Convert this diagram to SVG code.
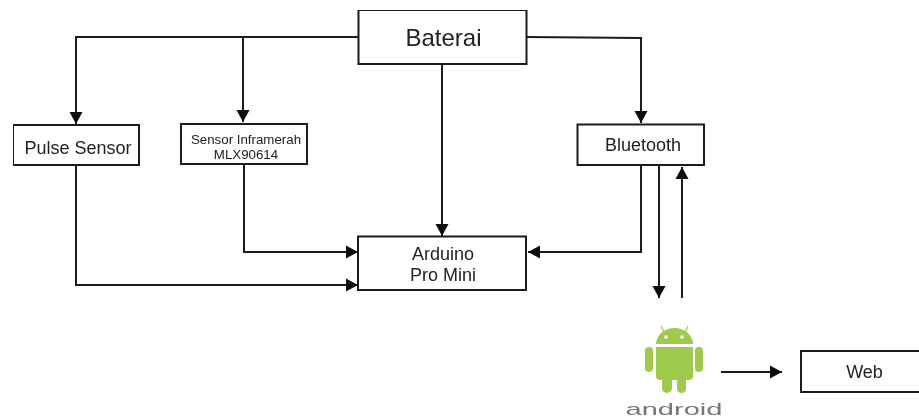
<svg xmlns="http://www.w3.org/2000/svg" width="919" height="419" viewBox="0 0 919 419">
<style>
.box{fill:#fff;stroke:#1c1c1c;stroke-width:2}
.c{fill:none;stroke:#1c1c1c;stroke-width:2}
text{font-family:"Liberation Sans",Arial,sans-serif;fill:#222;text-anchor:middle}
.g{fill:#9fca4e}
</style>
<defs>
<marker id="a" markerUnits="userSpaceOnUse" markerWidth="14" markerHeight="14" refX="12" refY="7" orient="auto"><path d="M0 0.500L12 7L0 13.500Z" fill="#111"/></marker>
<filter id="soft" x="0" y="0" width="100%" height="100%"><feGaussianBlur stdDeviation="0.35"/></filter>
</defs>
<rect width="919" height="419" fill="#fff"/>
<g filter="url(#soft)">
<g id="connectors">
<path class="c" d="M358 37H76V124" marker-end="url(#a)"/>
<path class="c" d="M243 37V122" marker-end="url(#a)"/>
<path class="c" d="M442 64V236" marker-end="url(#a)"/>
<path class="c" d="M527 37L641 38V123" marker-end="url(#a)"/>
<path class="c" d="M76 165V285H358" marker-end="url(#a)"/>
<path class="c" d="M244 164V252H358" marker-end="url(#a)"/>
<path class="c" d="M641 165V252H528" marker-end="url(#a)"/>
<path class="c" d="M659 165V298" marker-end="url(#a)"/>
<path class="c" d="M682 298V167" marker-end="url(#a)"/>
<path class="c" d="M721 372H782" marker-end="url(#a)"/>
</g>
<g id="baterai"><rect class="box" x="358.500" y="10" width="168" height="54"/><text x="443.500" y="46" font-size="24">Baterai</text></g>
<g id="pulse-sensor"><rect class="box" x="13" y="125" width="126" height="40"/><text x="78" y="154" font-size="18">Pulse Sensor</text></g>
<g id="sensor-inframerah"><rect class="box" x="181" y="124" width="126" height="40"/><text x="246" y="144" font-size="13.300">Sensor Inframerah</text><text x="246" y="158.500" font-size="13.300">MLX90614</text></g>
<g id="bluetooth"><rect class="box" x="577.500" y="124.500" width="126.500" height="40.500"/><text x="643" y="151" font-size="18">Bluetooth</text></g>
<g id="arduino"><rect class="box" x="358" y="236.500" width="168" height="53.500"/><text x="443" y="260" font-size="18">Arduino</text><text x="443" y="281" font-size="18">Pro Mini</text></g>
<g id="web"><rect class="box" x="801" y="351" width="125" height="41"/><text x="864.500" y="378" font-size="18">Web</text></g>
<g id="android">
<path class="g" d="M656 344a18.500 16 0 0 1 37 0Z"/>
<path class="g" d="M656 347H693V376a4 4 0 0 1-4 4H660a4 4 0 0 1-4-4Z"/>
<rect class="g" x="645" y="347" width="8" height="25" rx="4"/>
<rect class="g" x="695" y="347" width="8" height="25" rx="4"/>
<rect class="g" x="662" y="376" width="10" height="17" rx="5"/>
<rect class="g" x="677" y="376" width="9" height="17" rx="4.500"/>
<path d="M665 334L661 326M684 334L688 326" stroke="#9fca4e" stroke-width="1.200" fill="none"/>
<circle cx="666" cy="337" r="1.800" fill="#fff"/><circle cx="682" cy="337" r="1.800" fill="#fff"/>
<text x="674" y="414.500" font-size="17" textLength="97" lengthAdjust="spacingAndGlyphs" style="fill:#777">android</text>
</g>
</g>
</svg>
